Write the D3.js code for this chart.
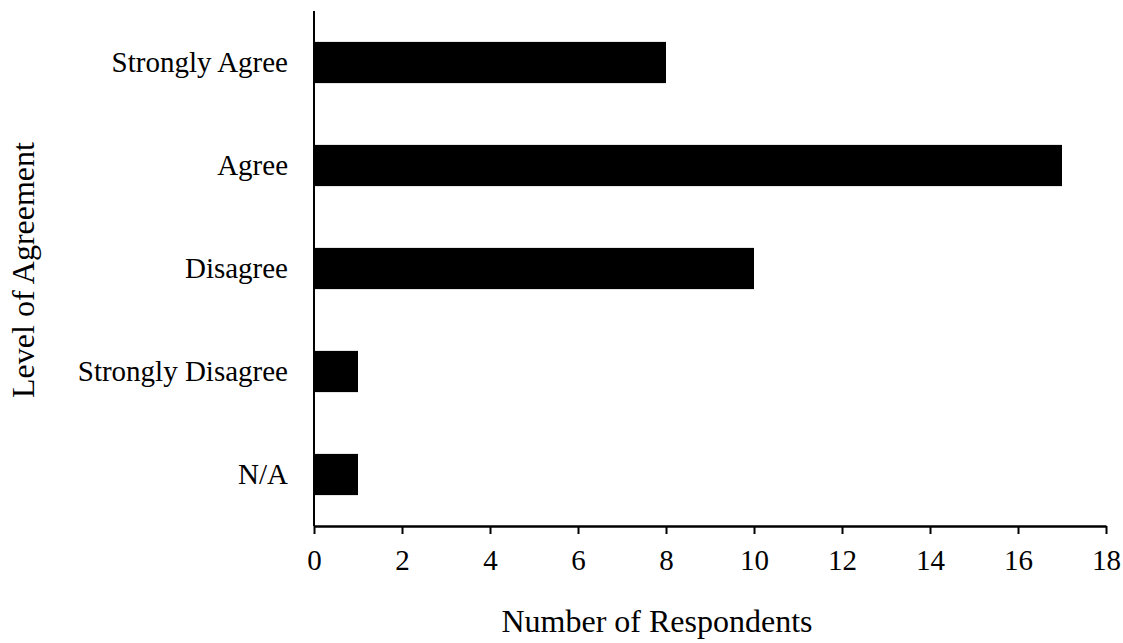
<!DOCTYPE html>
<html>
<head>
<meta charset="utf-8">
<script src="https://cdn.jsdelivr.net/npm/d3@7"></script>
<style>
  body { margin: 0; background: #fff; }
  text { font-family: "Liberation Serif", "Times New Roman", serif; fill: #000; }
</style>
</head>
<body>
<div id="chart"></div>
<script>
var categories = ["Strongly Agree", "Agree", "Disagree", "Strongly Disagree", "N/A"];
var respondents = [8, 17, 10, 1, 1];
var xTicks = [0, 2, 4, 6, 8, 10, 12, 14, 16, 18];

var margin = {top: 11, left: 314, bottom: 117, right: 17},
    width = 1123 - margin.left - margin.right,
    height = 643 - margin.top - margin.bottom;

var svg = d3.select("div#chart")
  .append("svg")
    .attr("width", 1123)
    .attr("height", 643)
  .append("g")
    .attr("transform", "translate(" + margin.left + "," + margin.top + ")");

var x = d3.scaleLinear().domain([0, 18]).range([0, 792]);
var y = d3.scaleBand().domain(categories).range([0, height])
    .paddingInner(0.6).paddingOuter(0.3);

svg.append("g")
    .selectAll("rect")
    .data(categories)
    .enter().append("rect")
      .attr("x", x(0))
      .attr("y", function(d) { return y(d); })
      .attr("width", function(d, i) { return x(respondents[i]) - x(0); })
      .attr("height", y.bandwidth())
      .attr("fill", "#000");

var xAxis = svg.append("g")
    .attr("transform", "translate(0," + height + ")")
    .call(d3.axisBottom(x).tickValues(xTicks).tickSize(8).tickSizeOuter(0).tickPadding(15));
xAxis.select(".domain").attr("stroke-width", 2.5);
xAxis.selectAll(".tick line").attr("stroke-width", 2);
xAxis.selectAll("text").attr("font-size", "29px").attr("font-family", "Liberation Serif");

var yAxis = svg.append("g")
    .call(d3.axisLeft(y).tickSize(0).tickPadding(26));
yAxis.select(".domain").attr("stroke-width", 2).attr("d", "M0," + 0 + "V" + height);
yAxis.selectAll("text").attr("font-size", "29px").attr("font-family", "Liberation Serif");

svg.append("text")
    .attr("x", 657 - margin.left)
    .attr("y", 632 - margin.top)
    .attr("text-anchor", "middle")
    .attr("font-size", "32px")
    .text("Number of Respondents");

svg.append("text")
    .attr("transform", "translate(" + (34 - margin.left) + "," + (270 - margin.top) + ") rotate(-90)")
    .attr("text-anchor", "middle")
    .attr("font-size", "32px")
    .text("Level of Agreement");
</script>
</body>
</html>
